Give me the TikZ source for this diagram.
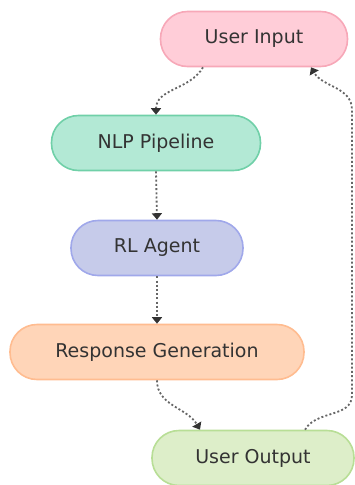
\documentclass[tikz,border=0pt]{standalone}
\usepackage{fontspec}
\setmainfont{DejaVu Sans}
\usetikzlibrary{arrows.meta, calc}

\definecolor{inputfill}{HTML}{FFCDD8}
\definecolor{inputline}{HTML}{F7A8B8}
\definecolor{nlpfill}{HTML}{B3E9D5}
\definecolor{nlpline}{HTML}{70D0A8}
\definecolor{rlfill}{HTML}{C6CBEA}
\definecolor{rlline}{HTML}{A0A8EA}
\definecolor{respfill}{HTML}{FFD5B8}
\definecolor{respline}{HTML}{FFBC90}
\definecolor{outfill}{HTML}{DDEEC9}
\definecolor{outline}{HTML}{B8DE96}
\definecolor{textgray}{HTML}{333333}
\definecolor{linkgray}{HTML}{666666}

\begin{document}
\begin{tikzpicture}[
    x=1pt, y=-1pt,
    pill/.style={draw, line width=1.6pt, rounded corners=27pt,
                 minimum height=55pt, text=textgray,
                 font=\fontsize{19}{21}\selectfont},
    flow/.style={linkgray, line width=1.8pt, dash pattern=on 2pt off 2.2pt,
                 -{Triangle[length=6.5pt, width=10pt, color=textgray]}}
]
    \useasboundingbox (0, 0) rectangle (354, 485);

    % Stages
    \node[pill, fill=inputfill, draw=inputline, minimum width=187pt] (input) at (254, 39) {User Input};
    \node[pill, fill=nlpfill, draw=nlpline, minimum width=209pt] (nlp) at (156, 143) {NLP Pipeline};
    \node[pill, fill=rlfill, draw=rlline, minimum width=172pt] (agent) at (157, 248) {RL Agent};
    \node[pill, fill=respfill, draw=respline, minimum width=294pt] (response) at (157, 352) {Response Generation};
    \node[pill, fill=outfill, draw=outline, minimum width=202pt] (output) at (253, 458) {User Output};

    % Feedback path on the right
    \coordinate (loopbot) at (352, 395);
    \coordinate (looptop) at (352, 110);

    % Links
    \draw[flow] ([xshift=-51pt]input.south) to[out=-120, in=90] (nlp.north);
    \draw[flow] (nlp.south) -- (agent.north);
    \draw[flow] (agent.south) -- (response.north);
    \draw[flow] (response.south) to[out=-90, in=120] ([xshift=-53pt]output.north);
    \draw[flow] ([xshift=52pt]output.north) to[out=60, in=-90] (loopbot)
        -- (looptop) to[out=90, in=-60] ([xshift=57pt]input.south);
\end{tikzpicture}
\end{document}
